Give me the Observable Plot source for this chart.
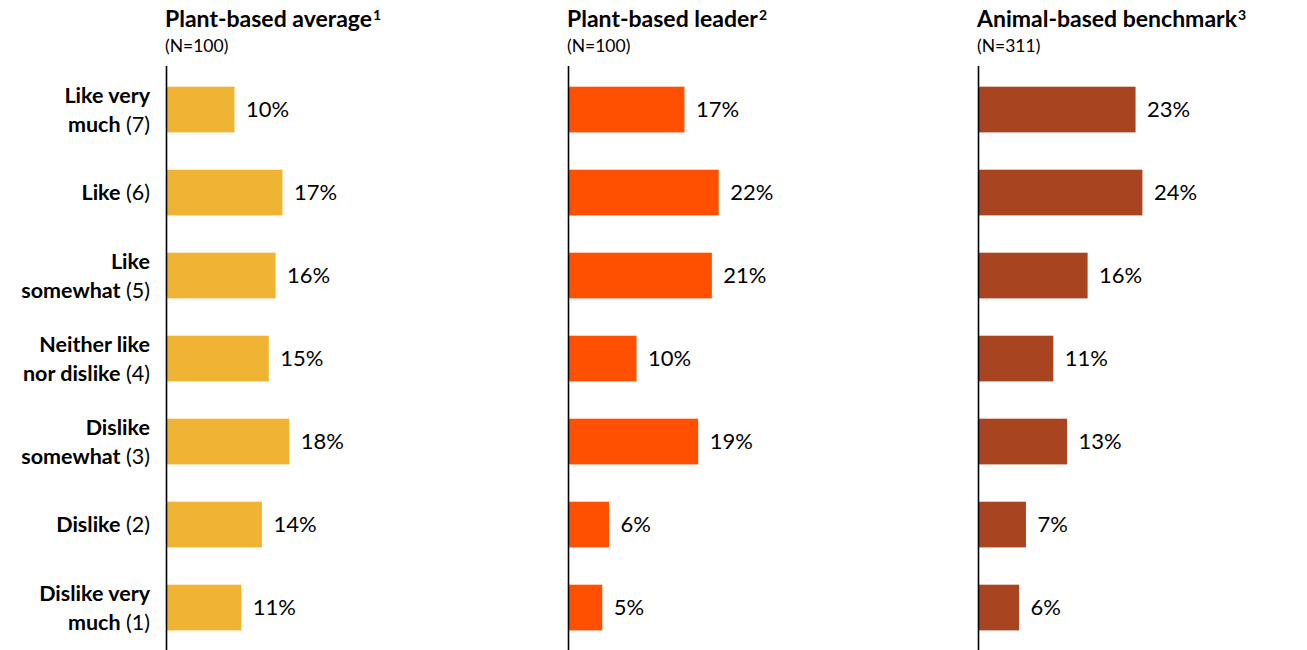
<!DOCTYPE html>
<html><head><meta charset="utf-8">
<script src="https://cdn.jsdelivr.net/npm/d3@7"></script>
<script src="https://cdn.jsdelivr.net/npm/@observablehq/plot@0.6"></script>
<style>
html,body{margin:0;padding:0;background:#fff;}
body{width:1307px;height:650px;position:relative;overflow:hidden;font-family:Lato,"Open Sans",sans-serif;color:#000;}
.panel{position:absolute;top:0;height:650px;}
.panel svg{position:absolute;left:0;top:0;}
.title{position:absolute;top:4px;font-weight:700;font-size:23px;white-space:nowrap;line-height:28px;}
.title sup{font-size:14px;vertical-align:top;position:relative;top:-3px;margin-left:1px;}
.sub{position:absolute;top:36px;font-size:17.5px;white-space:nowrap;line-height:20px;}
</style></head><body>
<script>
// ---- data ----
const categories = ["Like very much", "Like", "Like somewhat", "Neither like nor dislike", "Dislike somewhat", "Dislike", "Dislike very much"];
const categoryLines = [["Like very", "much"], ["Like"], ["Like", "somewhat"], ["Neither like", "nor dislike"], ["Dislike", "somewhat"], ["Dislike"], ["Dislike very", "much"]];
const scores = [7, 6, 5, 4, 3, 2, 1];
const seriesTitles = ["Plant-based average", "Plant-based leader", "Animal-based benchmark"];
const seriesNotes = ["1", "2", "3"];
const seriesN = [100, 100, 311];
const plantAverage = [10, 17, 16, 15, 18, 14, 11];
const plantLeader = [17, 22, 21, 10, 19, 6, 5];
const animalBenchmark = [23, 24, 16, 11, 13, 7, 6];
const seriesValues = [plantAverage, plantLeader, animalBenchmark];
const seriesColors = ["#F0B435", "#FE5000", "#A8441F"];

// ---- layout ----
const layout = [
  {left: 0, width: 402, marginLeft: 166},
  {left: 566, width: 406, marginLeft: 2},
  {left: 976, width: 331, marginLeft: 2}
];
const XMAX = 30, PX_PER_PCT = 6.85;

function labelMark(ml) {
  return (index, scales, values, dimensions) => {
    const y = scales.y;
    const bw = y.bandwidth ? y.bandwidth() : 0;
    const g = d3.create("svg:g")
      .attr("font-size", 21.5)
      .attr("text-anchor", "end")
      .attr("fill", "#000");
    categories.forEach((c, i) => {
      const lines = categoryLines[i];
      const cy = y(c) + bw / 2;
      const lh = 29;
      const y0 = cy - (lines.length - 1) * lh / 2;
      lines.forEach((ln, j) => {
        const t = g.append("text")
          .attr("x", ml - 16)
          .attr("y", y0 + j * lh)
          .attr("dy", "0.35em");
        t.append("tspan").attr("font-weight", 700).text(ln);
        if (j === lines.length - 1) {
          t.append("tspan").attr("font-weight", 400).text(" (" + scores[i] + ")");
        }
      });
    });
    return g.node();
  };
}

seriesTitles.forEach((title, s) => {
  const L = layout[s];
  const data = categories.map((c, i) => ({cat: c, value: seriesValues[s][i]}));
  const rangeW = XMAX * PX_PER_PCT;
  const panel = document.createElement("div");
  panel.className = "panel";
  panel.style.left = L.left + "px";
  panel.style.width = L.width + "px";
  const marks = [
    Plot.barX(data, {y: "cat", x: "value", fill: seriesColors[s], insetTop: 18.7, insetBottom: 18.6}),
    Plot.ruleX([0], {stroke: "#000", strokeWidth: 1.6}),
    Plot.text(data, {y: "cat", x: "value", text: d => d.value + "%", textAnchor: "start", dx: 11, fontSize: 22, fill: "#000"})
  ];
  if (s === 0) marks.push(labelMark(L.marginLeft));
  const chart = Plot.plot({
    width: L.width,
    height: 650,
    marginTop: 66,
    marginBottom: 0,
    marginLeft: L.marginLeft,
    marginRight: L.width - L.marginLeft - rangeW,
    style: {fontFamily: "Lato, 'Open Sans', sans-serif", background: "transparent", overflow: "visible"},
    x: {domain: [0, XMAX], axis: null},
    y: {domain: categories, padding: 0, axis: null},
    marks
  });
  panel.appendChild(chart);
  const t = document.createElement("div");
  t.className = "title";
  t.style.left = (L.marginLeft - 1) + "px";
  t.innerHTML = title + "<sup>" + seriesNotes[s] + "</sup>";
  panel.appendChild(t);
  const sub = document.createElement("div");
  sub.className = "sub";
  sub.style.left = (L.marginLeft - 1) + "px";
  sub.textContent = "(N=" + seriesN[s] + ")";
  panel.appendChild(sub);
  document.body.appendChild(panel);
});
</script>
</body></html>
